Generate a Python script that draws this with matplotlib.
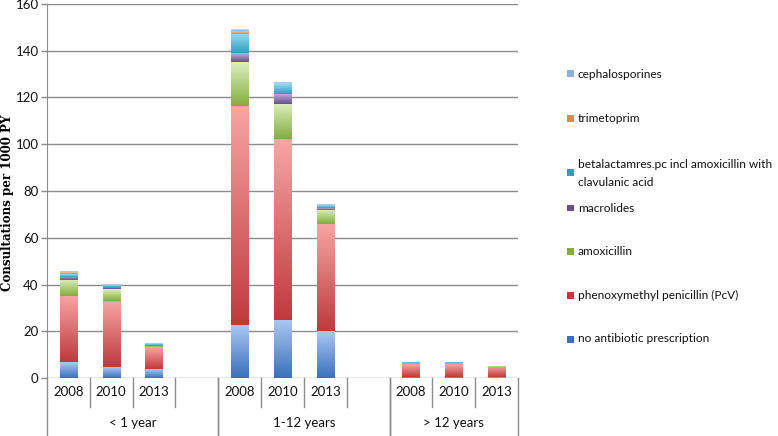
import numpy as np
import matplotlib
matplotlib.use("Agg")
import matplotlib.pyplot as plt
from matplotlib.colors import LinearSegmentedColormap
from matplotlib.patches import Rectangle

years = ["2008", "2010", "2013"]
age_groups = ["< 1 year", "1-12 years", "> 12 years"]

# one value per bar: <1 y (2008, 2010, 2013), 1-12 y (...), >12 y (...)
no_antibiotic   = [6.7, 4.7, 3.7, 22.7, 24.9, 19.9, 0.5, 0.5, 0.4]
pcv             = [28.4, 28.4, 9.4, 93.6, 77.3, 46.1, 5.4, 5.4, 4.3]
amoxicillin     = [6.9, 4.9, 0.8, 18.8, 15.2, 6.0, 0.5, 0.5, 0.2]
macrolides      = [1.4, 0.9, 0.3, 3.8, 3.9, 0.8, 0.1, 0.1, 0.0]
betalactamres   = [1.2, 0.8, 0.3, 8.4, 4.7, 1.0, 0.1, 0.1, 0.0]
trimetoprim     = [0.7, 0.1, 0.1, 1.0, 0.2, 0.2, 0.0, 0.0, 0.0]
cephalosporines = [0.3, 0.1, 0.1, 0.8, 0.2, 0.2, 0.0, 0.0, 0.0]

series = [no_antibiotic, pcv, amoxicillin, macrolides, betalactamres,
          trimetoprim, cephalosporines]
series_names = [
    "no antibiotic prescription",
    "phenoxymethyl penicillin (PcV)",
    "amoxicillin",
    "macrolides",
    "betalactamres.pc incl amoxicillin with\nclavulanic acid",
    "trimetoprim",
    "cephalosporines",
]
# (bottom colour, top colour) for the Excel-like gradient fill
colours = [
    ("#3a70bd", "#abc8f2"),
    ("#bf3a3c", "#f7a5a4"),
    ("#83ad3f", "#dcefbb"),
    ("#684e92", "#bba9d8"),
    ("#2b9fc0", "#9edcf0"),
    ("#e8883a", "#f9c39d"),
    ("#8eb0de", "#cfe0f6"),
]

W, H = 778, 436
fig = plt.figure(figsize=(W / 100, H / 100), dpi=100)
plt.rcParams["font.family"] = ["Lato", "DejaVu Sans"]

# axes box in pixels: x 47..518, y 4..378
ax = fig.add_axes([47 / W, 1 - 378 / H, (518 - 47) / W, (378 - 4) / H])
ax_w = 518 - 47
ax_h = 378 - 4

slots_per_group = 4
x = np.array([g * slots_per_group + i for g in range(len(age_groups))
              for i in range(len(years))], dtype=float)
bar_w = 0.4

bottom = np.zeros(len(x))
for vals, (c0, c1) in zip(series, colours):
    vals = np.array(vals, dtype=float)
    bars = ax.bar(x, vals, bar_w, bottom=bottom, color="none", linewidth=0, zorder=3)
    cmap = LinearSegmentedColormap.from_list("g", [c0, c1])
    grad = np.linspace(0, 1, 64).reshape(-1, 1)
    for b in bars:
        if b.get_height() <= 0:
            continue
        x0, y0 = b.get_x(), b.get_y()
        ax.imshow(grad, cmap=cmap, origin="lower", aspect="auto",
                  extent=(x0, x0 + b.get_width(), y0, y0 + b.get_height()),
                  zorder=3, interpolation="bilinear")
    bottom += vals

n_slots = len(age_groups) * slots_per_group - 1
ax.set_xlim(-0.5, n_slots - 0.5)
ax.set_ylim(0, 160)
ax.set_yticks(np.arange(0, 161, 20))
ax.tick_params(axis="y", length=4, width=1, color="#8c8c8c", pad=2,
               labelsize=9.5, labelcolor="#111111")
ax.set_xticks([])
ax.yaxis.grid(True, color="#8c8c8c", linewidth=1)
ax.set_axisbelow(True)
for s in ["top", "right", "bottom"]:
    ax.spines[s].set_visible(False)
ax.spines["left"].set_color("#8c8c8c")

ax.set_ylabel("Consultations per 1000 PY", family="DejaVu Serif",
              fontweight="bold", fontsize=8.6)
ax.yaxis.set_label_coords(-33 / ax_w, (378 - 203) / ax_h)

# multi-level category axis
trans = ax.get_xaxis_transform()
short_y = -29 / ax_h
long_y = -58 / ax_h
for g in range(len(age_groups)):
    start = g * slots_per_group - 0.5
    n = len(years) + (1 if g < len(age_groups) - 1 else 0)
    for k in range(n + 1):
        xx = start + k
        yb = long_y if k in (0, n) else short_y
        ax.plot([xx, xx], [0, yb], color="#8c8c8c", lw=1, transform=trans,
                clip_on=False)
    for i, yr in enumerate(years):
        ax.text(g * slots_per_group + i, -14 / ax_h, yr, transform=trans,
                ha="center", va="center", fontsize=9.5, color="#111111")
    ax.text(start + n / 2, -45 / ax_h, age_groups[g], transform=trans,
            ha="center", va="center", fontsize=9.5, color="#111111")

# legend drawn at the right, top entry = last series
legend_y = [339, 295, 251, 208, 164, 119, 74]
for name, (c0, c1), ly in zip(series_names, colours, legend_y):
    lines = name.split("\n")
    line_gap = 18
    mid = ly + (len(lines) - 1) * line_gap / 2
    fig.add_artist(Rectangle((567 / W, 1 - (mid + 3.5) / H), 7 / W, 7 / H,
                             transform=fig.transFigure,
                             facecolor=c0, edgecolor="none"))
    for j, ln in enumerate(lines):
        fig.text(578 / W, 1 - (ly + j * line_gap) / H, ln, ha="left",
                 va="center", fontsize=8.6, color="#111111")

fig.savefig("out.png", dpi=100)
